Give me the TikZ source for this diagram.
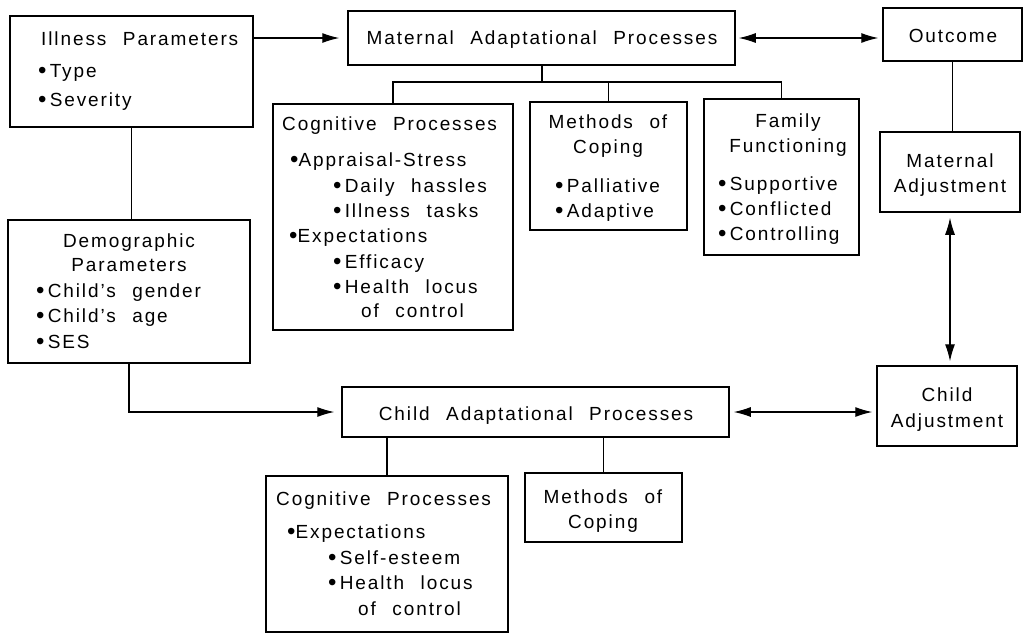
\documentclass[tikz,border=0pt]{standalone}
\usepackage{fontspec}
\setmainfont{Liberation Sans}[LetterSpace=10,WordSpace=2.3]
\usetikzlibrary{arrows.meta,fit}
% a slightly heavier bullet than the text font gives
\newcommand\bul{{\fontsize{24}{20}\selectfont\raisebox{-1.6pt}{•}}}
\begin{document}
\begin{tikzpicture}[x=1pt,y=-1pt,
  box/.style={draw,line width=1.5pt,inner sep=0pt,fit={#1}},
  txt/.style={inner sep=0pt,anchor=base west,font=\fontsize{19}{21}\selectfont},
  ctr/.style={txt,anchor=base},
  link/.style={line width=1.1pt},
  arr/.style={link,-{Latex[length=17pt,width=10pt]}},
  darr/.style={link,{Latex[length=17pt,width=10pt]}-{Latex[length=17pt,width=10pt]}}]
\useasboundingbox (0,0) rectangle (1028,635);

% boxes
\node[box={(10,16) (253,127)}] (ill) {};
\node[box={(348,11) (735,65)}] (mat) {};
\node[box={(883,8) (1022,61)}] (out) {};
\node[box={(880,132) (1020,212)}] (madj) {};
\node[box={(877,366) (1017,446)}] (cadj) {};
\node[box={(273,104) (513,330)}] (mcog) {};
\node[box={(530,102) (687,230)}] (mmeth) {};
\node[box={(704,99) (859,255)}] (mfam) {};
\node[box={(8,220) (250,363)}] (demo) {};
\node[box={(342,387) (729,437)}] (cap) {};
\node[box={(266,476) (508,632)}] (ccog) {};
\node[box={(525,473) (682,542)}] (cmeth) {};

% illness parameters
\node[txt] (ill1) at (41,45) {Illness Parameters};
\node[txt] (ill2) at (38,77) {\bul\,Type};
\node[txt] (ill3) at (38,106) {\bul\,Severity};

% maternal processes and outcome
\node[ctr] (mat1) at (542,44) {Maternal Adaptational Processes};
\node[ctr] (out1) at (953,42) {Outcome};
\node[ctr] (madj1) at (950,167) {Maternal};
\node[ctr] (madj2) at (950,192) {Adjustment};
\node[ctr] (cadj1) at (947,401) {Child};
\node[ctr] (cadj2) at (947,427) {Adjustment};

% maternal cognitive processes
\node[txt] (mc1) at (282,130) {Cognitive Processes};
\node[txt] (mc2) at (290,166) {\bul Appraisal-Stress};
\node[txt] (mc3) at (333,192) {\bul\,Daily hassles};
\node[txt] (mc4) at (333,217) {\bul\,Illness tasks};
\node[txt] (mc5) at (289,242) {\bul Expectations};
\node[txt] (mc6) at (333,268) {\bul\,Efficacy};
\node[txt] (mc7) at (333,293) {\bul\,Health locus};
\node[txt] (mc8) at (361,317) {of control};

% maternal methods of coping
\node[ctr] (mm1) at (608,128) {Methods of};
\node[ctr] (mm2) at (608,153) {Coping};
\node[txt] (mm3) at (555,192) {\bul\,Palliative};
\node[txt] (mm4) at (555,217) {\bul\,Adaptive};

% family functioning
\node[ctr] (mf1) at (788,127) {Family};
\node[ctr] (mf2) at (788,152) {Functioning};
\node[txt] (mf3) at (718,190) {\bul\,Supportive};
\node[txt] (mf4) at (718,215) {\bul\,Conflicted};
\node[txt] (mf5) at (718,240) {\bul\,Controlling};

% demographic parameters
\node[ctr] (de1) at (129,247) {Demographic};
\node[ctr] (de2) at (129,271) {Parameters};
\node[txt] (de3) at (36,297) {\bul\,Child’s gender};
\node[txt] (de4) at (36,322) {\bul\,Child’s age};
\node[txt] (de5) at (36,348) {\bul\,SES};

% child processes
\node[ctr] (cap1) at (536,420) {Child Adaptational Processes};
\node[txt] (cc1) at (276,505) {Cognitive Processes};
\node[txt] (cc2) at (287,538) {\bul Expectations};
\node[txt] (cc3) at (328,564) {\bul\,Self-esteem};
\node[txt] (cc4) at (328,589) {\bul\,Health locus};
\node[txt] (cc5) at (358,615) {of control};
\node[ctr] (cm1) at (603,503) {Methods of};
\node[ctr] (cm2) at (603,528) {Coping};

% connectors
\coordinate (mj) at (542,82);
\draw[arr,shorten >=8pt] (ill.east |- mat.west) -- (mat.west);
\draw[darr,shorten <=3pt,shorten >=4pt] (mat.east) -- (mat.east -| out.west);
\draw[link] (out.south) -- (out.south |- madj.north);
\draw[darr,shorten <=5pt,shorten >=4pt] (madj.south) -- (madj.south |- cadj.north);
\draw[link] (ill.south) -- (ill.south |- demo.north);
\draw[arr,shorten >=7pt] (demo.south) |- (cap.west);
\draw[darr,shorten <=4pt,shorten >=4pt] (cap.east) -- (cap.east -| cadj.west);
\draw[link] (mat.south -| mj) -- (mj);
\draw[link] (mcog.north) -- (mcog.north |- mj) -- (mfam.north |- mj) -- (mfam.north);
\draw[link] (mmeth.north) -- (mmeth.north |- mj);
\draw[link] (ccog.north) -- (ccog.north |- cap.south);
\draw[link] (cmeth.north) -- (cmeth.north |- cap.south);
\end{tikzpicture}
\end{document}
